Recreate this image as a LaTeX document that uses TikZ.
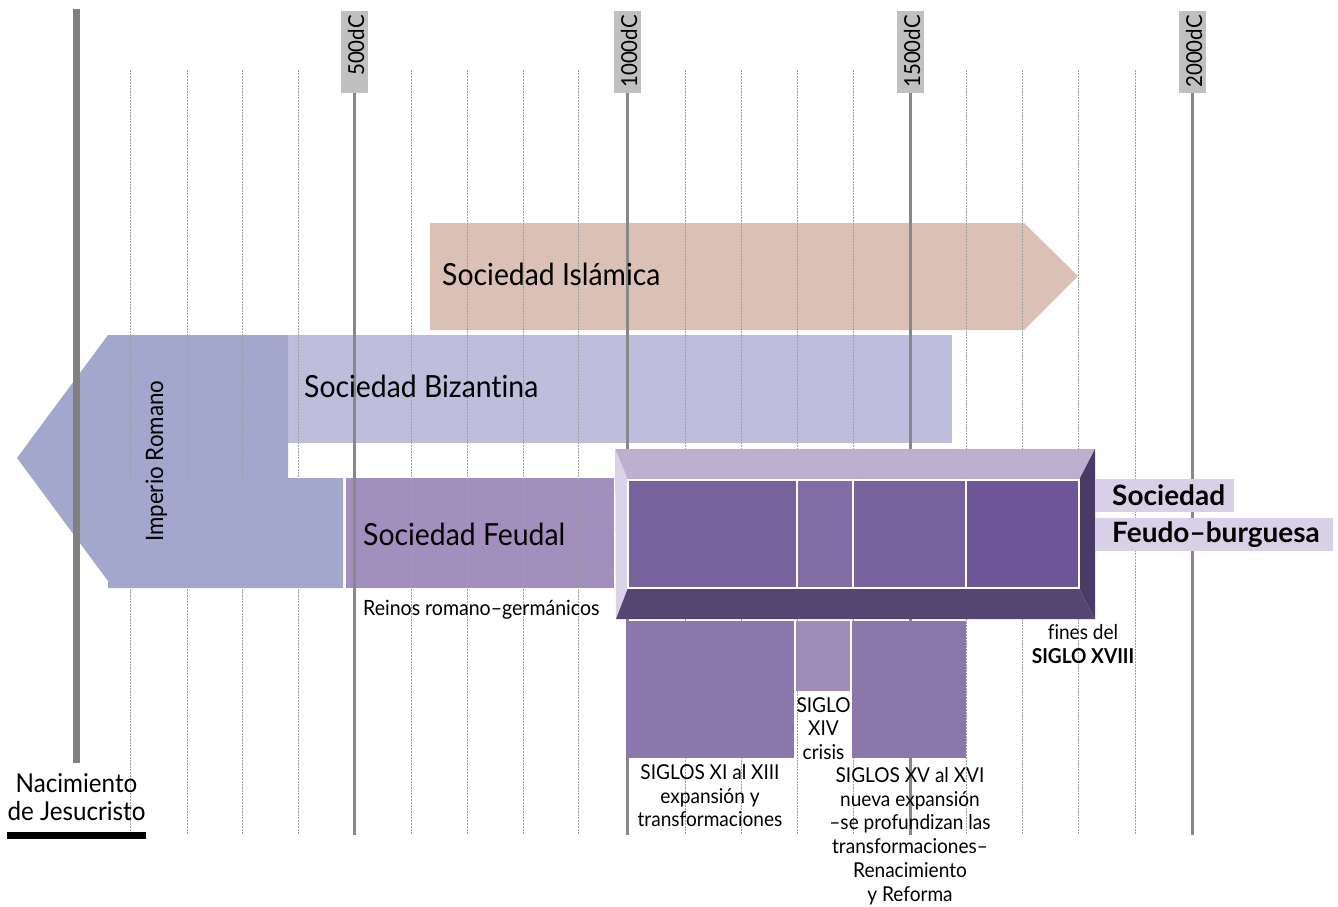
\documentclass[tikz,border=0pt]{standalone}
\usepackage{fontspec}
\setmainfont{Lato}[FakeStretch=0.93, Ligatures=NoCommon]
\newfontfamily\labfont{Lato}[FakeStretch=1.0, Ligatures=NoCommon]
\definecolor{islam}{HTML}{DBC0B5}
\definecolor{biz}{HTML}{BEBDDC}
\definecolor{imp}{HTML}{A3A6CD}
\definecolor{feud}{HTML}{A38FBE}
\definecolor{boxtop}{HTML}{BCB0D0}
\definecolor{boxleft}{HTML}{DAD2E8}
\definecolor{boxright}{HTML}{4A3A67}
\definecolor{boxbottom}{HTML}{554572}
\definecolor{cellA}{HTML}{78629E}
\definecolor{cellB}{HTML}{826CA5}
\definecolor{cellC}{HTML}{6F5698}
\definecolor{panelA}{HTML}{8B77AB}
\definecolor{panelB}{HTML}{A08CBB}
\definecolor{labbg}{HTML}{D8D0E6}
\definecolor{yeargray}{HTML}{C0C0C0}
\definecolor{linegray}{HTML}{888888}
\definecolor{thickgray}{HTML}{808080}
\definecolor{dotgray}{HTML}{A0A0A0}
\begin{document}
\begin{tikzpicture}[x=1pt,y=-1pt,
  dotline/.style={draw=dotgray, line width=1pt, dash pattern=on 1.5pt off 1.5pt},
  yearline/.style={draw=linegray, line width=2.4pt},
  yearbox/.style={fill=yeargray, minimum width=27pt, minimum height=82pt, inner sep=0pt, anchor=north},
  yeartext/.style={rotate=90, anchor=east, inner sep=0pt, font=\fontsize{22}{24}\selectfont},
  bigtext/.style={anchor=base west, inner sep=0pt, font=\fontsize{30.5}{34}\selectfont},
  smalltext/.style={align=center, anchor=north, inner sep=0pt, font=\fontsize{20.5}{23.8}\selectfont},
  labtext/.style={anchor=base west, inner sep=0pt, font=\labfont\bfseries\fontsize{28}{30}\selectfont},
  cell/.style={draw=white, line width=1.2pt}
]
\useasboundingbox (0,0) rectangle (1338,906);
% background bands
\fill[islam] (430,223) -- (1024,223) -- (1078,276) -- (1024,330) -- (430,330) -- cycle;
\fill[biz] (288,335) rectangle (952,443);
\fill[imp] (17,458) -- (108,335) -- (288,335) -- (288,478) -- (343,478) -- (343,588) -- (108,588) -- (108,581) -- cycle;
\fill[feud] (346,478) rectangle (614,588);
% grid
\foreach \x in {130,187,242,298,411,467,523,578,685,741,797,853,966,1022,1078,1135}
  \draw[dotline] (\x,70) -- (\x,835);
\node[yearbox] (b500) at (354.5,11) {};
\node[yearbox] (b1000) at (627.5,11) {};
\node[yearbox] (b1500) at (910.5,11) {};
\node[yearbox] (b2000) at (1192.5,11) {};
\coordinate (e500) at (354.5,835);
\coordinate (e1000) at (627.5,835);
\coordinate (e1500) at (910.5,835);
\coordinate (e2000) at (1192.5,835);
\draw[yearline] (b500.south) -- (e500);
\draw[yearline] (b1000.south) -- (e1000);
\draw[yearline] (b1500.south) -- (e1500);
\draw[yearline] (b2000.south) -- (e2000);
\node[yeartext] (t500) at (356,15) {500dC};
\node[yeartext] (t1000) at (629,15) {1000dC};
\node[yeartext] (t1500) at (912,15) {1500dC};
\node[yeartext] (t2000) at (1194,15) {2000dC};
% lower Roman block over the grid
\fill[imp] (108,478) rectangle (343,588);
% birth line
\coordinate (n0) at (76.5,9);
\coordinate (n1) at (76.5,763);
\draw[draw=thickgray, line width=7pt] (n0) -- (n1);
% band labels
\node[bigtext] (isl) at (442,285) {Sociedad Islámica};
\node[bigtext] (bizl) at (304,397) {Sociedad Bizantina};
\node[bigtext] (feu) at (363,545) {Sociedad Feudal};
\node[rotate=90, anchor=base west, inner sep=0pt, font=\fontsize{24}{26}\selectfont] (imper) at (163,542) {Imperio Romano};
\node[anchor=base west, inner sep=0pt, font=\fontsize{21}{24}\selectfont] (reinos) at (363,615) {Reinos romano–germánicos};
% birth label
\node[align=center, anchor=north, inner sep=0pt, font=\fontsize{26}{28}\selectfont] (naci) at (76.5,773) {Nacimiento\\de Jesucristo};
\fill[black] (7,832) rectangle (146,839);
% feudo-burgues block
\fill[boxtop] (615,449) -- (1095,449) -- (1079,480) -- (628,480) -- cycle;
\fill[boxleft] (615,449) -- (628,480) -- (628,588) -- (616,619) -- cycle;
\fill[boxright] (1095,449) -- (1095,619) -- (1079,588) -- (1079,480) -- cycle;
\fill[boxbottom] (616,619) -- (1095,619) -- (1079,588) -- (628,588) -- cycle;
\draw[cell, fill=cellA] (628,480) rectangle (797,588);
\draw[cell, fill=cellB] (797,480) rectangle (853,588);
\draw[cell, fill=cellA] (853,480) rectangle (966,588);
\draw[cell, fill=cellC] (966,480) rectangle (1079,588);
% panels
\fill[panelA] (626,621) rectangle (794,758);
\fill[panelB] (796,621) rectangle (850,691);
\fill[panelA] (852,621) rectangle (966,758);
\node[smalltext] (p1) at (710,764) {SIGLOS XI al XIII\\expansión y\\transformaciones};
\node[smalltext] (p2) at (823.5,697) {SIGLO\\XIV\\crisis};
\node[smalltext] (p3) at (910,767) {SIGLOS XV al XVI\\nueva expansión\\–se profundizan las\\transformaciones–\\Renacimiento\\y Reforma};
\node[smalltext] (fines) at (1083,624) {fines del\\\textbf{SIGLO XVIII}};
% feudo-burguesa label
\fill[labbg] (1095,479) rectangle (1234,512);
\fill[labbg] (1095,518) rectangle (1333,551);
\node[labtext] (soc) at (1112,505) {Sociedad};
\node[labtext] (fb) at (1112,542) {Feudo–burguesa};
\end{tikzpicture}
\end{document}
